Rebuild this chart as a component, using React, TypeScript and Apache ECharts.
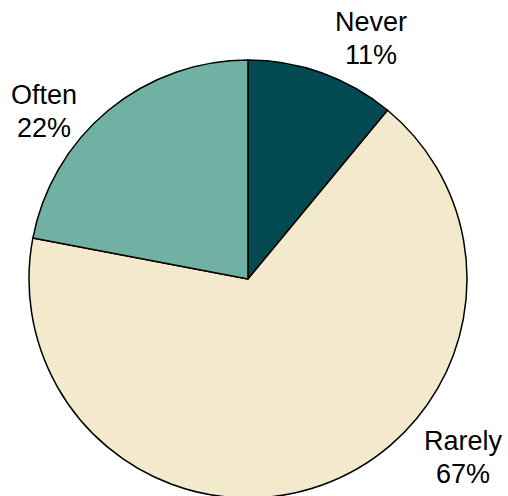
import React, { useEffect, useRef } from "react";
import * as echarts from "echarts";

// Survey answer shares, in clockwise order from 12 o'clock
const categories = ["Never", "Rarely", "Often"];
const shares = [11, 67, 22];
const sliceColors = ["#034a53", "#f3e9cd", "#70b1a4"];

// Label anchor points (px) for each category, in the same order
const labelAnchors: [number, number][] = [
  [371, 38],
  [463, 457],
  [44, 111],
];

export default function App() {
  const ref = useRef<HTMLDivElement>(null);

  useEffect(() => {
    if (!ref.current) return;
    const chart = echarts.init(ref.current, null, { renderer: "svg" });
    chart.setOption({
      animation: false,
      backgroundColor: "#ffffff",
      series: [
        {
          type: "pie",
          center: [248, 279],
          radius: 219,
          startAngle: 90,
          clockwise: true,
          silent: true,
          avoidLabelOverlap: false,
          itemStyle: { borderColor: "#000000", borderWidth: 1.5 },
          label: {
            show: true,
            position: "outside",
            formatter: "{b}\n{d}%",
            color: "#000000",
            fontFamily: "Liberation Sans, Arial, sans-serif",
            fontSize: 27,
            lineHeight: 33,
            align: "center",
            overflow: "none",
            edgeDistance: 0,
          },
          labelLine: { show: false },
          labelLayout: (params: any) => {
            const p = labelAnchors[params.dataIndex];
            return { x: p[0], y: p[1], align: "center", verticalAlign: "middle" };
          },
          data: categories.map((name, i) => ({
            name,
            value: shares[i],
            itemStyle: { color: sliceColors[i] },
          })),
        },
      ],
    });
    return () => chart.dispose();
  }, []);

  return (
    <div
      ref={ref}
      style={{ position: "fixed", left: 0, top: 0, width: 508, height: 496 }}
    />
  );
}
